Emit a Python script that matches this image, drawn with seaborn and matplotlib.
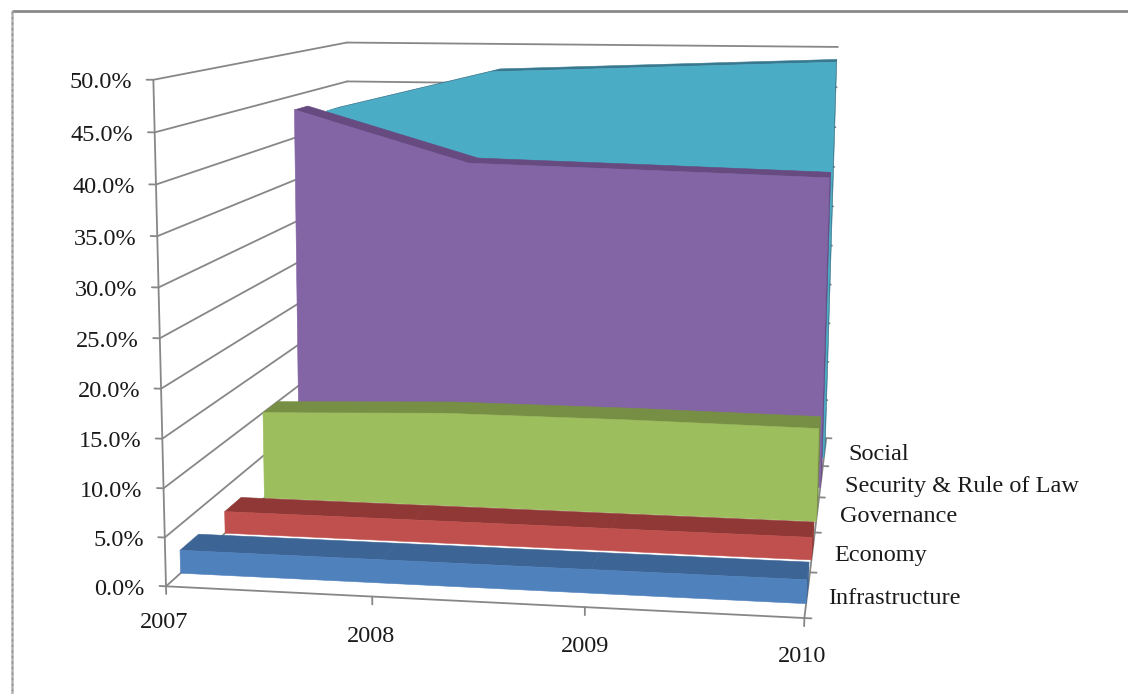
import numpy as np
import pandas as pd
import matplotlib
matplotlib.use("Agg")
import matplotlib.pyplot as plt
import seaborn as sns

# Chart content
years = ["2007", "2008", "2009", "2010"]
sectors = ["Infrastructure", "Economy", "Governance", "Security & Rule of Law", "Social"]
infrastructure = [2.4, 2.4, 2.4, 2.4]
economy = [2.4, 2.4, 2.4, 2.4]
governance = [10.0, 10.7, 10.7, 10.5]
security = [43.3, 37.35, 36.9, 36.4]
social = [42.0, 47.1, 47.9, 48.7]
y_ticks = [0, 5, 10, 15, 20, 25, 30, 35, 40, 45, 50]

series_values = [infrastructure, economy, governance, security, social]
front_colors = sns.color_palette(["#4f81bd", "#c0504d", "#9dbe5c", "#8364a4", "#4bacc6"])
top_colors = sns.color_palette(["#3c6494", "#8f3835", "#778f45", "#674a80", "#38798f"])

# Perspective camera: (year index, depth, percent) -> canvas pixels
CAMERA = np.array([
    [200.58242333, 60.97058492, -0.37694371, 165.98529992],
    [1.19575503, -4.22213572, -10.19501435, 586.30723724],
    [-0.01517941, 0.06874370, -0.00081204, 1.0],
])
DEPTH_FRONT, DEPTH_BACK = 0.3, 0.7
FLOOR_DEPTH = len(sectors)
GRID = "#878787"


def project(x, depth, value):
    h = CAMERA @ np.array([x, depth, value, 1.0])
    return h[0] / h[2], h[1] / h[2]


sns.set_theme(style="white", rc={"font.family": ["Liberation Serif", "DejaVu Serif"]})
fig = plt.figure(figsize=(11.28, 6.94), dpi=100, facecolor="white")
ax = fig.add_axes([0, 0, 1, 1])
ax.set_xlim(0, 1128)
ax.set_ylim(694, 0)

# Wall, floor and tick lines collected as a tidy table for seaborn
segments = []


def add_segment(a, b):
    pa, pb = project(*a), project(*b)
    uid = len(segments)
    segments.extend([(uid, pa[0], pa[1]), (uid, pb[0], pb[1])])


last = len(years) - 1
for v in y_ticks:
    if v > 0:
        add_segment((0, 0, v), (0, FLOOR_DEPTH, v))
        add_segment((0, FLOOR_DEPTH, v), (last, FLOOR_DEPTH, v))
    add_segment((-0.032, 0, v), (0, 0, v))
add_segment((0, 0, 0), (0, 0, 50))
add_segment((0, 0, 0), (last, 0, 0))
add_segment((0, 0, 0), (0, FLOOR_DEPTH, 0))
add_segment((last, 0, 0), (last, FLOOR_DEPTH, 0))
for i in range(len(years)):
    add_segment((i, 0, 0), (i, 0, -0.8))
for d in range(len(sectors) + 1):
    add_segment((last, d, 0), (last + 0.032, d, 0))

lines = pd.DataFrame(segments, columns=["uid", "px", "py"])
sns.lineplot(data=lines, x="px", y="py", units="uid", estimator=None, sort=False,
             color=GRID, linewidth=1.3, ax=ax, legend=False, zorder=1)


def face(points, color, z):
    xy = [project(*p) for p in points]
    ax.fill(*zip(*xy), facecolor=color, edgecolor=color, linewidth=0.4, zorder=z)


# Area bands are painted from the back wall towards the viewer
for i in reversed(range(len(sectors))):
    vals = series_values[i]
    d0, d1 = i + DEPTH_FRONT, i + DEPTH_BACK
    z = 10 + (len(sectors) - i) * 3
    face([(last, d0, 0), (last, d0, vals[-1]), (last, d1, vals[-1]), (last, d1, 0)],
         top_colors[i], z)
    for k in range(last):
        face([(k, d0, vals[k]), (k + 1, d0, vals[k + 1]),
              (k + 1, d1, vals[k + 1]), (k, d1, vals[k])], top_colors[i], z + 1)
    outline = [(k, d0, vals[k]) for k in range(last + 1)] + [(last, d0, 0), (0, d0, 0)]
    face(outline, front_colors[i], z + 2)

TEXT = "#1a1a1a"
FS = 17.5
for v in y_ticks:
    px, py = project(0, 0, v)
    ax.text(px - 21, py + 3, f"{v:.1f}%", ha="right", va="center", fontsize=FS, color=TEXT)

year_label_pos = [(164, 623), (371, 637), (585, 646), (802, 657)]
for label, (px, py) in zip(years, year_label_pos):
    ax.text(px, py, label, ha="center", va="center", fontsize=FS, color=TEXT)

sector_label_pos = [(828, 599), (834, 556), (840, 517), (845, 486), (848, 454)]
for label, (px, py) in zip(sectors, sector_label_pos):
    ax.text(px, py, label, ha="left", va="center", fontsize=FS, color=TEXT)

# Outer border of the panel
ax.plot([12, 1128], [11, 11], color="#8a8a8a", linewidth=2.0, zorder=50, solid_capstyle="butt")
ax.plot([12, 12], [11, 694], color="#b4b4b4", linewidth=1.8, zorder=50, solid_capstyle="butt")
ax.plot([12, 12], [11, 694], color="#8f8f8f", linewidth=1.0, zorder=51, linestyle=(0, (1.5, 2.5)))

ax.set_xlim(0, 1128)
ax.set_ylim(694, 0)
ax.set_xlabel("")
ax.set_ylabel("")
ax.axis("off")
fig.savefig("out.png", dpi=100, facecolor="white")
